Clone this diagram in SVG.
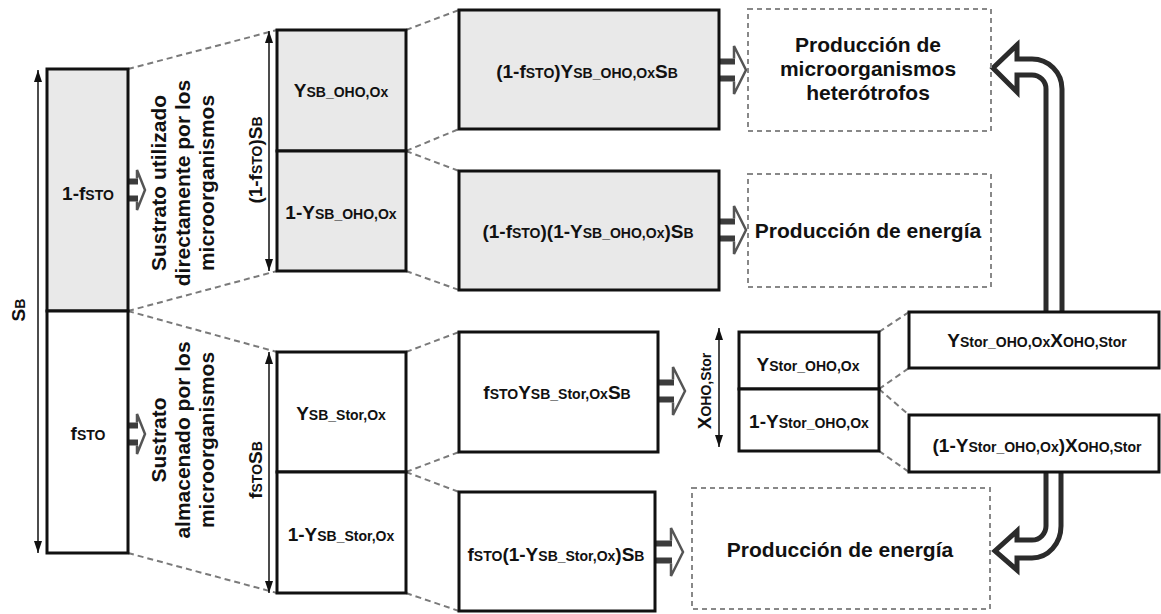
<svg xmlns="http://www.w3.org/2000/svg" width="1161" height="614" viewBox="0 0 1161 614">
<defs>
<style>
text{font-family:"Liberation Sans",Arial,sans-serif;font-weight:bold;fill:#111}
.b{font-size:19px}
.s{font-size:14px}
.p{font-size:21px}
.r{font-size:21px}
.box{stroke:#111;stroke-width:3}
.g{fill:#e9e9e9}
.w{fill:#fff}
.dbox{fill:none;stroke:#888;stroke-width:2;stroke-dasharray:5 4}
.dl{fill:none;stroke:#7a7a7a;stroke-width:2;stroke-dasharray:6 4}
.dim{stroke:#111;stroke-width:1.5;marker-start:url(#ah);marker-end:url(#ah)}
.big{fill:#fff;stroke:#2b2b2b;stroke-width:5}
</style>
<marker id="ah" viewBox="0 0 12 8" refX="12" refY="4" markerWidth="12" markerHeight="8" markerUnits="userSpaceOnUse" orient="auto-start-reverse"><path d="M0,0 L12,4 L0,8 z" fill="#111"/></marker>
<g id="harr">
<path d="M15,-11.5 V-24 L27,0 L15,24 V11.5" fill="#fff" stroke="#555" stroke-width="2.5"/>
<rect x="0" y="-8.5" width="16" height="17" fill="#fff"/>
<path d="M0,-8.5 H16 M0,8.5 H16" stroke="#3c3c3c" stroke-width="6"/>
</g>
<g id="harr2">
<path d="M9,-11.5 V-20 L17,0 L9,20 V11.5" fill="#fff" stroke="#555" stroke-width="2.5"/>
<rect x="0" y="-8.5" width="10" height="17" fill="#fff"/>
<path d="M0,-8.5 H10 M0,8.5 H10" stroke="#3c3c3c" stroke-width="6"/>
</g>
</defs>
<rect width="1161" height="614" fill="#fff"/>

<g id="connectors">
<g id="dashed-links">
<path class="dl" d="M128,69 L277,30 M128,311 L277,271 M128,311 L277,352 M128,553 L277,593"/>
<path class="dl" d="M406,30 L459,10 M406,151 L459,129 M406,151 L459,171 M406,271 L459,290"/>
<path class="dl" d="M406,352 L459,332 M406,472 L459,452 M406,472 L459,492 M406,593 L459,611"/>
<path class="dl" d="M879,332 L909,312 M879,389 L909,368 M879,389 L909,415 M879,451 L909,472"/>
</g>
<g id="dimension-arrows">
<line class="dim" x1="38" y1="70" x2="38" y2="553"/>
<line class="dim" x1="269" y1="31" x2="269" y2="271"/>
<line class="dim" x1="269" y1="352" x2="269" y2="593"/>
<line class="dim" x1="719" y1="328" x2="719" y2="447"/>
</g>
<g id="flow-arrows">
<use href="#harr2" transform="translate(128,190)"/>
<use href="#harr2" transform="translate(128,434)"/>
<use href="#harr" transform="translate(719,70)"/>
<use href="#harr" transform="translate(719,230)"/>
<use href="#harr" transform="translate(658,391)"/>
<use href="#harr" transform="translate(656,552)"/>
<path class="big" d="M1046,313 V89 A14,14 0 0 0 1032,75 H1017 V92 L993,68 L1017,45 V59 H1032 A30,30 0 0 1 1062,89 V313"/>
<path class="big" d="M1046,472 V526 A14,14 0 0 1 1032,540 H1017 V531 L995,551 L1017,570 V558 H1032 A29,32 0 0 0 1061,526 V472"/>
</g>
</g>

<g id="node-sb">
<text class="b" transform="translate(25,310) rotate(-90)" text-anchor="middle">S<tspan class="s">B</tspan></text>
</g>
<g id="node-left-top">
<rect class="box g" x="47" y="69" width="81" height="242"/>
<text class="b" x="88" y="200" text-anchor="middle">1-f<tspan class="s">STO</tspan></text>
</g>
<g id="node-left-bottom">
<rect class="box w" x="47" y="311" width="81" height="242"/>
<text class="b" x="88" y="440" text-anchor="middle">f<tspan class="s">STO</tspan></text>
</g>
<g id="node-label-direct">
<text class="r" text-anchor="middle" transform="translate(166,183) rotate(-90)">Sustrato utilizado</text>
<text class="r" text-anchor="middle" transform="translate(190,183) rotate(-90)">directamente por los</text>
<text class="r" text-anchor="middle" transform="translate(214,183) rotate(-90)">microorganismos</text>
</g>
<g id="node-label-stored">
<text class="r" text-anchor="middle" transform="translate(166,440) rotate(-90)">Sustrato</text>
<text class="r" text-anchor="middle" transform="translate(190,440) rotate(-90)">almacenado por los</text>
<text class="r" text-anchor="middle" transform="translate(214,440) rotate(-90)">microorganismos</text>
</g>
<g id="node-dim-top">
<text class="b" text-anchor="middle" transform="translate(262,160) rotate(-90)">(1-f<tspan class="s">STO</tspan>)S<tspan class="s">B</tspan></text>
</g>
<g id="node-dim-bottom">
<text class="b" text-anchor="middle" transform="translate(262,470) rotate(-90)">f<tspan class="s">STO</tspan>S<tspan class="s">B</tspan></text>
</g>
<g id="node-ysb-oho">
<rect class="box g" x="277" y="30" width="129" height="121"/>
<text class="b" x="341" y="97" text-anchor="middle">Y<tspan class="s">SB_OHO,Ox</tspan></text>
</g>
<g id="node-1-ysb-oho">
<rect class="box g" x="277" y="151" width="129" height="120"/>
<text class="b" x="341" y="219" text-anchor="middle">1-Y<tspan class="s">SB_OHO,Ox</tspan></text>
</g>
<g id="node-ysb-stor">
<rect class="box w" x="277" y="352" width="129" height="120"/>
<text class="b" x="341" y="420" text-anchor="middle">Y<tspan class="s">SB_Stor,Ox</tspan></text>
</g>
<g id="node-1-ysb-stor">
<rect class="box w" x="277" y="472" width="129" height="121"/>
<text class="b" x="341" y="541" text-anchor="middle">1-Y<tspan class="s">SB_Stor,Ox</tspan></text>
</g>
<g id="node-growth-direct">
<rect class="box g" x="459" y="10" width="260" height="119"/>
<text class="b" x="587" y="78" text-anchor="middle">(1-f<tspan class="s">STO</tspan>)Y<tspan class="s">SB_OHO,Ox</tspan>S<tspan class="s">B</tspan></text>
</g>
<g id="node-energy-direct">
<rect class="box g" x="459" y="171" width="260" height="119"/>
<text class="b" x="588" y="238" text-anchor="middle">(1-f<tspan class="s">STO</tspan>)(1-Y<tspan class="s">SB_OHO,Ox</tspan>)S<tspan class="s">B</tspan></text>
</g>
<g id="node-storage">
<rect class="box w" x="459" y="332" width="199" height="120"/>
<text class="b" x="557" y="399" text-anchor="middle">f<tspan class="s">STO</tspan>Y<tspan class="s">SB_Stor,Ox</tspan>S<tspan class="s">B</tspan></text>
</g>
<g id="node-energy-storage">
<rect class="box w" x="459" y="492" width="196" height="119"/>
<text class="b" x="556" y="561" text-anchor="middle">f<tspan class="s">STO</tspan>(1-Y<tspan class="s">SB_Stor,Ox</tspan>)S<tspan class="s">B</tspan></text>
</g>
<g id="node-xoho-stor-label">
<text class="b" text-anchor="middle" transform="translate(711,391) rotate(-90)">X<tspan class="s">OHO,Stor</tspan></text>
</g>
<g id="node-ystor">
<rect class="box w" x="739" y="332" width="140" height="57"/>
<text class="b" x="808" y="371" text-anchor="middle">Y<tspan class="s">Stor_OHO,Ox</tspan></text>
</g>
<g id="node-1-ystor">
<rect class="box w" x="739" y="389" width="140" height="62"/>
<text class="b" x="809" y="428" text-anchor="middle">1-Y<tspan class="s">Stor_OHO,Ox</tspan></text>
</g>
<g id="node-growth-stor">
<rect class="box w" x="909" y="312" width="250" height="56"/>
<text class="b" x="1037" y="347" text-anchor="middle">Y<tspan class="s">Stor_OHO,Ox</tspan>X<tspan class="s">OHO,Stor</tspan></text>
</g>
<g id="node-energy-stor">
<rect class="box w" x="909" y="415" width="250" height="57"/>
<text class="b" x="1037" y="452" text-anchor="middle">(1-Y<tspan class="s">Stor_OHO,Ox</tspan>)X<tspan class="s">OHO,Stor</tspan></text>
</g>
<g id="node-prod-hetero">
<rect class="dbox" x="748" y="9" width="243" height="122"/>
<text class="p" x="868" y="52" text-anchor="middle">Producción de</text>
<text class="p" x="868" y="76" text-anchor="middle">microorganismos</text>
<text class="p" x="868" y="100" text-anchor="middle">heterótrofos</text>
</g>
<g id="node-prod-energy-top">
<rect class="dbox" x="748" y="174" width="243" height="113"/>
<text class="p" x="868" y="238" text-anchor="middle">Producción de energía</text>
</g>
<g id="node-prod-energy-bottom">
<rect class="dbox" x="692" y="488" width="298" height="121"/>
<text class="p" x="840" y="557" text-anchor="middle">Producción de energía</text>
</g>
</svg>
